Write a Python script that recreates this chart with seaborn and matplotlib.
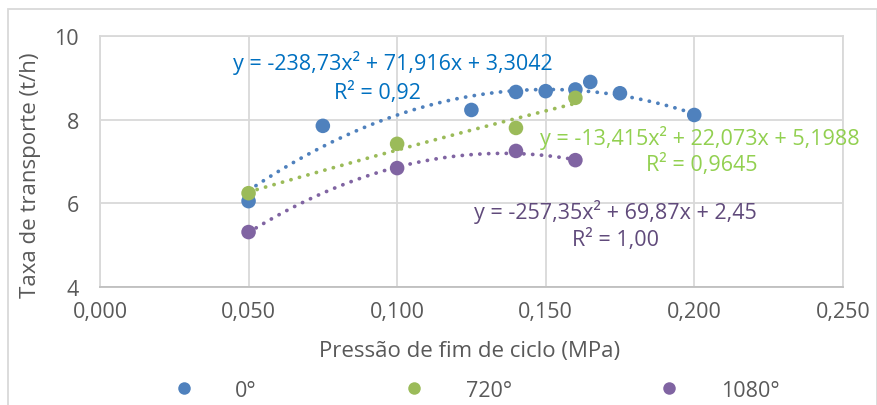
import numpy as np
import pandas as pd
import matplotlib
matplotlib.use("Agg")
import matplotlib.pyplot as plt
from matplotlib.lines import Line2D
from matplotlib.patches import Rectangle
import seaborn as sns

# Measured points per series
x_0 = [0.050, 0.075, 0.125, 0.140, 0.150, 0.160, 0.165, 0.175, 0.200]
y_0 = [6.05, 7.85, 8.23, 8.66, 8.68, 8.72, 8.90, 8.63, 8.11]
x_720 = [0.050, 0.100, 0.140, 0.160]
y_720 = [6.24, 7.42, 7.80, 8.52]
x_1080 = [0.050, 0.100, 0.140, 0.160]
y_1080 = [5.31, 6.84, 7.25, 7.03]

series_names = ["0°", "720°", "1080°"]

# Quadratic trend-line coefficients (a, b, c) for y = a x² + b x + c
coef_0 = [-238.73, 71.916, 3.3042]
coef_720 = [-13.415, 22.073, 5.1988]
coef_1080 = [-257.35, 69.87, 2.45]
r2_labels = ["0,92", "0,9645", "1,00"]

x_ticks = [0.000, 0.050, 0.100, 0.150, 0.200, 0.250]
y_ticks = [4, 6, 8, 10]

marker_colors = ["#4F81BD", "#9BBB59", "#8064A2"]
eq_colors = ["#0070C0", "#92D050", "#604A7B"]

sns.set_theme(style="white")
plt.rcParams["font.family"] = ["Open Sans", "DejaVu Sans"]

FS = 15.5

df = pd.DataFrame({
    "x": x_0 + x_720 + x_1080,
    "y": y_0 + y_720 + y_1080,
    "serie": [series_names[0]] * len(x_0) + [series_names[1]] * len(x_720)
             + [series_names[2]] * len(x_1080),
})

fig = plt.figure(figsize=(8.78, 4.06), dpi=100)
ax = fig.add_axes([0.1139, 0.291, 0.846, 0.618])

# dotted polynomial trend lines over each series' x span
for xs, coef, col in zip([x_0, x_720, x_1080], [coef_0, coef_720, coef_1080], marker_colors):
    xx = np.linspace(min(xs), max(xs), 300)
    yy = np.polyval(coef, xx)
    ax.plot(xx, yy, linestyle=(0, (0.05, 2.3)), color=col, linewidth=2.7,
            dash_capstyle="round", zorder=2)

sns.scatterplot(data=df, x="x", y="y", hue="serie", palette=marker_colors,
                s=110, edgecolor="none", legend=False, ax=ax, zorder=3)

ax.set_xlim(0, 0.25)
ax.set_ylim(4, 10)
ax.set_xticks(x_ticks)
ax.set_xticklabels([f"{v:.3f}".replace(".", ",") for v in x_ticks])
ax.set_yticks(y_ticks)
ax.set_yticklabels([str(v) for v in y_ticks])
ax.tick_params(axis="both", length=0, labelsize=FS, labelcolor="#595959")
ax.tick_params(axis="x", pad=10)
ax.tick_params(axis="y", pad=15)
ax.grid(True, color="#D9D9D9", linewidth=1.3)
ax.set_axisbelow(True)
for side in ["left", "right", "top"]:
    ax.spines[side].set_color("#D9D9D9")
    ax.spines[side].set_linewidth(1.3)
ax.spines["bottom"].set_color("#BFBFBF")
ax.spines["bottom"].set_linewidth(1.3)

ax.set_xlabel("Pressão de fim de ciclo (MPa)", fontsize=FS + 0.5, color="#595959")
ax.set_ylabel("Taxa de transporte (t/h)", fontsize=FS + 0.5, color="#595959")
ax.xaxis.set_label_coords(0.498, -0.255)
ax.yaxis.set_label_coords(-0.094, 0.45)
ax.xaxis.label.set_va("center")
ax.yaxis.label.set_va("center")

def fmt(v, nd):
    return f"{abs(v):.{nd}f}".replace(".", ",")

eq_texts = [
    f"y = -{fmt(coef_0[0], 2)}x² + {fmt(coef_0[1], 3)}x + {fmt(coef_0[2], 4)}",
    f"y = -{fmt(coef_720[0], 3)}x² + {fmt(coef_720[1], 3)}x + {fmt(coef_720[2], 4)}",
    f"y = -{fmt(coef_1080[0], 2)}x² + {fmt(coef_1080[1], 2)}x + {fmt(coef_1080[2], 2)}",
]
eq_pos = [(0.0986, 9.38), (0.2019, 7.58), (0.1736, 5.81)]
r2_pos = [(0.0935, 8.66), (0.2026, 6.94), (0.1736, 5.14)]
for txt, r2, pe, pr, col in zip(eq_texts, r2_labels, eq_pos, r2_pos, eq_colors):
    ax.text(pe[0], pe[1], txt, color=col, fontsize=FS, ha="center", va="center", zorder=4)
    ax.text(pr[0], pr[1], f"R² = {r2}", color=col, fontsize=FS, ha="center", va="center", zorder=4)

handles = [Line2D([0], [0], marker="o", linestyle="none", markersize=9,
                  markerfacecolor=c, markeredgecolor="none") for c in marker_colors]
fig.legend(handles, series_names, loc="center", bbox_to_anchor=(0.536, 0.036), ncol=3,
           frameon=False, fontsize=FS, labelcolor="#595959", columnspacing=6.3,
           handletextpad=1.4)

fig.patches.append(Rectangle((0.009, -0.01), 0.99, 0.985, transform=fig.transFigure,
                             fill=False, edgecolor="#D9D9D9", linewidth=1.3))

fig.savefig("out.png", dpi=100)
